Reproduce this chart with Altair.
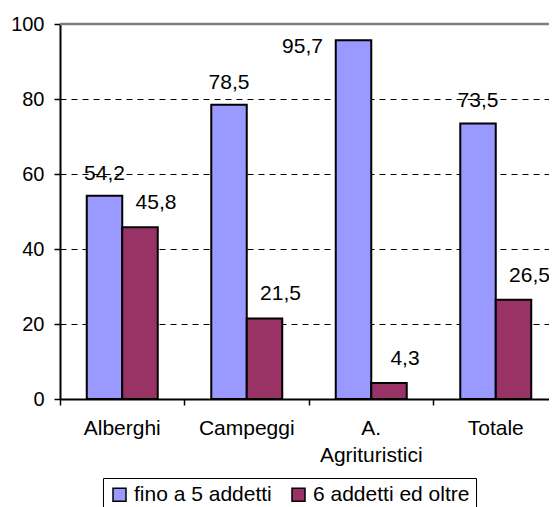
import altair as alt
import pandas as pd

categories = ["Alberghi", "Campeggi", "A. Agrituristici", "Totale"]
series = ["fino a 5 addetti", "6 addetti ed oltre"]
fino5 = [54.2, 78.5, 95.7, 73.5]
oltre6 = [45.8, 21.5, 4.3, 26.5]
colors = ["#9999FF", "#993366"]

rows = []
for i, c in enumerate(categories):
    rows.append({"cat": c, "serie": series[0], "value": fino5[i]})
    rows.append({"cat": c, "serie": series[1], "value": oltre6[i]})
df = pd.DataFrame(rows)

FONT = "Liberation Sans"

x_scale = alt.Scale(paddingInner=0, paddingOuter=0, range=[0, 498])
x_enc = alt.X(
    "cat:N",
    sort=categories,
    title=None,
    scale=x_scale,
    axis=alt.Axis(
        bandPosition=0,
        labelAngle=0,
        labelFont=FONT,
        labelFontSize=21,
        labelColor="black",
        labelPadding=12,
        labelLineHeight=27,
        labelExpr="datum.label == 'A. Agrituristici' ? ['A.', 'Agrituristici'] : datum.label",
        tickSize=6,
        tickColor="black",
        tickWidth=1.5,
        domainColor="black",
        domainWidth=2,
        grid=False,
    ),
)
xoff = alt.XOffset(
    "serie:N",
    sort=series,
    scale=alt.Scale(paddingInner=0, paddingOuter=0.754),
)
y_scale = alt.Scale(domain=[0, 100], nice=False)

base = alt.Chart(df)

bars = base.mark_bar(stroke="black", strokeWidth=2).encode(
    x=x_enc,
    xOffset=xoff,
    y=alt.Y(
        "value:Q",
        scale=y_scale,
        title=None,
        axis=alt.Axis(
            values=[0, 20, 40, 60, 80, 100],
            labelFont=FONT,
            labelFontSize=20,
            labelColor="black",
            labelPadding=10,
            tickSize=6,
            tickColor="black",
            tickWidth=1.5,
            domainColor="black",
            domainWidth=2,
            grid=True,
            gridColor="black",
            gridDash=[6, 5],
            gridWidth=1,
        ),
    ),
    color=alt.Color(
        "serie:N",
        sort=series,
        scale=alt.Scale(domain=series, range=colors),
        legend=alt.Legend(
            title=None,
            orient="none",
            legendX=43,
            legendY=454,
            direction="horizontal",
            symbolType="square",
            symbolSize=169,
            symbolStrokeColor="black",
            symbolStrokeWidth=1.5,
            symbolOpacity=1,
            labelFont=FONT,
            labelFontSize=21,
            labelColor="black",
            labelOffset=4,
            columnPadding=16,
            padding=6,
            strokeColor="black",
            fillColor="white",
        ),
    ),
)

labeled = base.transform_calculate(
    lab="replace(format(datum.value, '.1f'), '.', ',')"
)

text_common = dict(font=FONT, fontSize=21, color="black", baseline="middle", align="center")

lab_blue = labeled.transform_filter(
    (alt.datum.serie == series[0]) & (alt.datum.value <= 90)
).mark_text(dy=-22, **text_common).encode(
    x=alt.X("cat:N", sort=categories, scale=x_scale), xOffset=xoff,
    y=alt.Y("value:Q", scale=y_scale), text="lab:N")

lab_blue_hi = labeled.transform_filter(
    (alt.datum.serie == series[0]) & (alt.datum.value > 90)
).mark_text(dx=-51, dy=7, **text_common).encode(
    x=alt.X("cat:N", sort=categories, scale=x_scale), xOffset=xoff,
    y=alt.Y("value:Q", scale=y_scale), text="lab:N")

lab_maroon = labeled.transform_filter(
    alt.datum.serie == series[1]
).mark_text(dx=16, dy=-24, **text_common).encode(
    x=alt.X("cat:N", sort=categories, scale=x_scale), xOffset=xoff,
    y=alt.Y("value:Q", scale=y_scale), text="lab:N")

top_border = alt.Chart(pd.DataFrame({"v": [100]})).mark_rule(
    color="#808080", strokeWidth=2.5
).encode(y=alt.Y("v:Q", scale=y_scale))

chart = alt.layer(bars, top_border, lab_blue, lab_blue_hi, lab_maroon).properties(
    width=489,
    height=375,
    autosize=alt.AutoSizeParams(type="none"),
    padding={"left": 52, "top": 16, "right": 0, "bottom": 108},
).configure_view(stroke=None).configure(background="white")

chart.save("out.html", embed_options={"renderer": "svg", "actions": False})
